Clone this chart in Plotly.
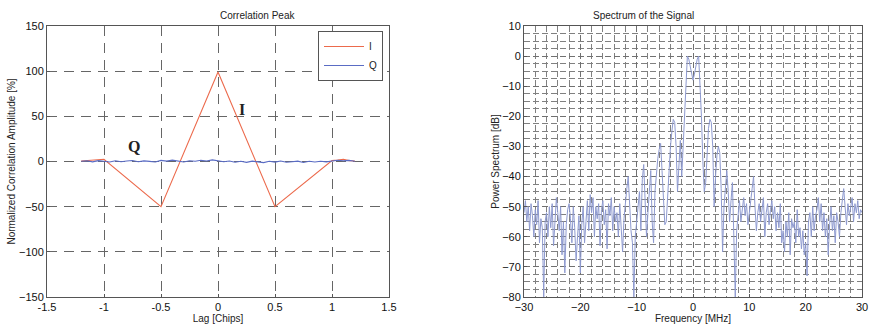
import plotly.graph_objects as go

# ---------------- Data: correlation peak ----------------
lag_i = [-1.2, -1.15, -1.1, -1.05, -1.0, -0.5, 0.0, 0.5, 1.0, 1.05, 1.1, 1.15, 1.2]
corr_i = [0.5, 0.8, 1.2, 1.5, 2.5, -50.0, 99.0, -50.0, 1.0, 1.5, 2.5, 1.0, 0.5]

lag_q = [-1.2, -1.15, -1.1, -1.05, -1.0, -0.95, -0.9, -0.85, -0.8, -0.75, -0.7, -0.65,
         -0.6, -0.55, -0.5, -0.45, -0.4, -0.35, -0.3, -0.25, -0.2, -0.15, -0.1, -0.05,
         0.0, 0.05, 0.1, 0.15, 0.2, 0.25, 0.3, 0.35, 0.4, 0.45, 0.5, 0.55, 0.6, 0.65,
         0.7, 0.75, 0.8, 0.85, 0.9, 0.95, 1.0, 1.05, 1.1, 1.15, 1.2]
corr_q = [0.3, 0.8, -0.4, 1.0, 0.2, -0.6, 0.9, -0.3, 0.5, 1.1, -0.2, 0.7, 0.1, -0.5,
          1.2, 0.4, 1.5, 0.2, -0.6, 0.8, 0.3, 1.3, 0.6, 1.8, 1.0, -0.3, 0.5, -0.8,
          0.2, -1.0, 0.4, -0.5, -1.2, 0.3, -0.7, 0.6, -0.9, -0.2, 0.4, -1.1, 0.2,
          -0.6, 0.3, -0.4, 0.9, 1.4, 0.8, 1.2, 0.3]

# ---------------- Data: spectrum ----------------
freq_mhz = [-30.0 + 0.25 * k for k in range(241)]
power_db = [
    -52, -48, -55, -50, -58, -49, -53, -60,
    -51, -56, -48, -62, -54, -57, -80, -55,
    -52, -60, -50, -57, -49, -63, -55, -47,
    -52, -58, -50, -66, -55, -72, -56, -51,
    -49, -54, -62, -50, -57, -68, -60, -53,
    -72, -56, -50, -62, -55, -48, -58, -46,
    -52, -47, -60, -50, -54, -49, -63, -51,
    -48, -56, -51, -64, -49, -53, -47, -58,
    -50, -55, -52, -60, -49, -57, -65, -54,
    -48, -44, -40, -52, -58, -62, -80, -60,
    -55, -50, -45, -58, -41, -36, -48, -60,
    -52, -44, -38, -55, -62, -45, -38, -34,
    -31, -29, -38, -50, -56, -55, -45, -36,
    -30, -25, -21, -22, -30, -45, -38, -28,
    -40, -30, -18, -6, 0, -1, -3, -6,
    -8, -6, -3, -1, 0, -8, -20, -35,
    -45, -42, -32, -24, -21, -22, -30, -50,
    -40, -33, -30, -32, -44, -65, -50, -42,
    -38, -45, -55, -48, -42, -60, -80, -58,
    -52, -48, -55, -50, -47, -53, -49, -56,
    -51, -48, -44, -40, -50, -58, -52, -49,
    -55, -50, -47, -60, -52, -49, -56, -51,
    -48, -54, -50, -58, -52, -57, -49, -62,
    -58, -65, -55, -60, -52, -66, -54, -57,
    -55, -62, -51, -60, -57, -64, -58, -66,
    -62, -73, -55, -52, -60, -50, -58, -53,
    -51, -47, -55, -49, -58, -52, -60, -54,
    -66, -56, -50, -58, -53, -62, -52, -55,
    -60, -52, -48, -44, -50, -56, -49, -53,
    -50, -47, -55, -49, -52, -48, -54, -51,
    -52,
]

x_ticks_corr = [-1.5, -1, -0.5, 0, 0.5, 1, 1.5]
y_ticks_corr = [-150, -100, -50, 0, 50, 100, 150]
x_ticks_spec = [-30, -20, -10, 0, 10, 20, 30]
y_ticks_spec = [10, 0, -10, -20, -30, -40, -50, -60, -70, -80]

W, H = 871, 329
I_COLOR = "#ec6a4c"
Q_COLOR = "#5a6cc4"
S_COLOR = "#8e9ad0"
FONT = "Liberation Sans, Arial, sans-serif"

fig = go.Figure()
fig.add_trace(go.Scatter(x=lag_i, y=corr_i, mode="lines", name="I",
                         line=dict(color=I_COLOR, width=1.1), xaxis="x", yaxis="y"))
fig.add_trace(go.Scatter(x=lag_q, y=corr_q, mode="lines", name="Q",
                         line=dict(color=Q_COLOR, width=1.1), xaxis="x", yaxis="y"))
fig.add_trace(go.Scatter(x=freq_mhz, y=power_db, mode="lines", showlegend=False,
                         line=dict(color=S_COLOR, width=1), xaxis="x2", yaxis="y2"))

ydom = [1 - 297 / H, 1 - 26 / H]
axis_common = dict(showline=True, mirror=True, linecolor="#555", linewidth=1,
                   ticks="inside", ticklen=3, tickcolor="#555", automargin=False,
                   tickfont=dict(family=FONT, size=11, color="#111"),
                   zeroline=False, showgrid=True)

fig.update_layout(
    width=W, height=H,
    margin=dict(l=0, r=0, t=0, b=0),
    paper_bgcolor="white", plot_bgcolor="white",
    font=dict(family=FONT, color="#222"),
    xaxis=dict(domain=[47 / W, 389 / W], range=[-1.5, 1.5], tickvals=x_ticks_corr,
               ticktext=[str(v) for v in x_ticks_corr],
               gridcolor="#666", griddash="10px,7px", gridwidth=1,
               title=dict(text="Lag [Chips]", font=dict(size=10, family=FONT), standoff=2),
               anchor="y", **axis_common),
    yaxis=dict(domain=ydom, range=[-150, 150], tickvals=y_ticks_corr,
               gridcolor="#666", griddash="10px,7px", gridwidth=1,
               title=dict(text="Normalized Correlation Amplitude [%]",
                          font=dict(size=10, family=FONT), standoff=1),
               anchor="x", **axis_common),
    xaxis2=dict(domain=[524 / W, 862 / W], range=[-30, 30], tickvals=x_ticks_spec,
                gridcolor="#707070", griddash="6px,3px", gridwidth=1,
                title=dict(text="Frequency [MHz]", font=dict(size=10, family=FONT), standoff=2),
                anchor="y2",
                minor=dict(dtick=2, showgrid=True, gridcolor="#808080", griddash="6px,3px"),
                **axis_common),
    yaxis2=dict(domain=ydom, range=[-80, 10], tickvals=y_ticks_spec,
                gridcolor="#707070", griddash="6px,3px", gridwidth=1,
                title=dict(text="Power Spectrum [dB]", font=dict(size=10, family=FONT), standoff=0),
                anchor="x2",
                minor=dict(dtick=2.5, showgrid=True, gridcolor="#808080", griddash="6px,3px"),
                **axis_common),
    legend=dict(x=383 / W, y=1 - 31 / H, xanchor="right", yanchor="top",
                bgcolor="white", bordercolor="#555", borderwidth=1,
                font=dict(size=10, family=FONT), itemwidth=40,
                tracegroupgap=0),
    showlegend=True,
    annotations=[
        dict(text="Correlation Peak", x=(47 + 389) / 2 / W, y=1 - 15 / H,
             xref="paper", yref="paper", showarrow=False, yanchor="middle",
             font=dict(size=10, family=FONT, color="#222")),
        dict(text="Spectrum of the Signal", x=(524 + 867) / 2 / W, y=1 - 15 / H,
             xref="paper", yref="paper", showarrow=False, yanchor="middle",
             font=dict(size=10, family=FONT, color="#222")),
        dict(text="<b>Q</b>", x=-0.74, y=17, xref="x", yref="y", showarrow=False,
             font=dict(size=16, family="Liberation Serif, Times New Roman, serif", color="#222")),
        dict(text="<b>I</b>", x=0.21, y=58, xref="x", yref="y", showarrow=False,
             font=dict(size=16, family="Liberation Serif, Times New Roman, serif", color="#222")),
    ],
)

fig.write_html(
    "out.html",
    config={"displayModeBar": False},
    post_script="document.body.style.margin='0';document.body.style.overflow='hidden';",
)
